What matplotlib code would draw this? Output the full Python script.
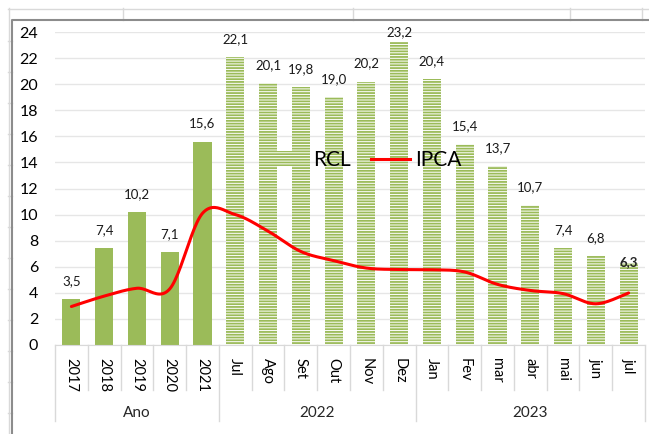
import numpy as np
import matplotlib
matplotlib.use('Agg')
import matplotlib.pyplot as plt
from matplotlib.lines import Line2D
from matplotlib.patches import Patch

plt.rcParams['font.family'] = ['Lato', 'DejaVu Sans']
plt.rcParams['hatch.linewidth'] = 1.3

# data
categories = ['2017', '2018', '2019', '2020', '2021',
              'Jul', 'Ago', 'Set', 'Out', 'Nov', 'Dez',
              'Jan', 'Fev', 'mar', 'abr', 'mai', 'jun', 'jul']
rcl = [3.5, 7.4, 10.2, 7.1, 15.6,
       22.1, 20.1, 19.8, 19.0, 20.2, 23.2,
       20.4, 15.4, 13.7, 10.7, 7.4, 6.8, 6.3]
ipca = [2.95, 3.75, 4.35, 4.3, 10.1,
        10.0, 8.73, 7.17, 6.47, 5.90, 5.79,
        5.77, 5.60, 4.65, 4.18, 3.94, 3.16, 3.99]
groups = ['Ano', '2022', '2023']
group_sizes = [5, 6, 7]

GREEN = '#9bbb59'
W, H = 649, 434


def smooth(x, y, n=25):
    # bezier smoothing like excel's "smoothed line"
    x = np.asarray(x, float)
    y = np.asarray(y, float)
    px = np.concatenate([[x[0]], x, [x[-1]]])
    py = np.concatenate([[y[0]], y, [y[-1]]])
    xs, ys = [], []
    t = np.linspace(0, 1, n)
    for i in range(1, len(px) - 2):
        p0 = np.array([px[i], py[i]])
        p3 = np.array([px[i + 1], py[i + 1]])
        c1 = p0 + (np.array([px[i + 1], py[i + 1]]) - np.array([px[i - 1], py[i - 1]])) / 6
        c2 = p3 - (np.array([px[i + 2], py[i + 2]]) - np.array([px[i], py[i]])) / 6
        b = ((1 - t) ** 3)[:, None] * p0 + (3 * (1 - t) ** 2 * t)[:, None] * c1 \
            + (3 * (1 - t) * t ** 2)[:, None] * c2 + (t ** 3)[:, None] * p3
        xs.extend(b[:, 0])
        ys.extend(b[:, 1])
    return xs, ys


fig = plt.figure(figsize=(W / 100, H / 100), dpi=100)
fig.patch.set_facecolor('white')

# spreadsheet cells behind the chart
cell = '#d9d9d9'
fig.add_artist(Line2D([8 / W, 1], [1 - 8.5 / H] * 2, color=cell, lw=1))
fig.add_artist(Line2D([8.5 / W] * 2, [0, 1 - 8 / H], color=cell, lw=1))
for xc in [123, 353, 570, 642]:
    fig.add_artist(Line2D([xc / W] * 2, [1 - 8 / H, 1 - 20 / H], color=cell, lw=1))
for yr in range(41, 434, 31):
    fig.add_artist(Line2D([8 / W, 12 / W], [1 - yr / H] * 2, color=cell, lw=1))
# chart area border
fig.add_artist(Line2D([12 / W, 12 / W, 1], [0, 1 - 20 / H, 1 - 20 / H], color='#8c8c8c', lw=1.5))

ax = fig.add_axes([55 / W, 89 / H, 590 / W, 313 / H])
x = np.arange(len(categories))

n_solid = group_sizes[0]
ax.bar(x[:n_solid], rcl[:n_solid], width=0.55, color=GREEN, zorder=2)
ax.bar(x[n_solid:], rcl[n_solid:], width=0.55, facecolor='white', edgecolor=GREEN,
       hatch='------', linewidth=0, zorder=2)

sx, sy = smooth(x, ipca)
ax.plot(sx, sy, color='#ff0000', lw=2.2, zorder=3, solid_capstyle='round')

# data labels
for i, v in enumerate(rcl):
    txt = f'{v:.1f}'.replace('.', ',')
    if i == len(rcl) - 1:
        ax.annotate(txt, (i, v), xytext=(0, 1), textcoords='offset pixels', ha='center',
                    va='center', fontsize=9.5, fontweight='bold', color='#262626', zorder=4)
        continue
    off = 18 if v < 23 else 10
    ax.annotate(txt, (i, v), xytext=(0, off), textcoords='offset pixels', ha='center',
                va='center', fontsize=9.5, color='#1a1a1a', annotation_clip=False)

ax.set_xlim(-0.5, len(categories) - 0.5)
ax.set_ylim(0, 24)
ax.set_yticks(range(0, 25, 2))
ax.tick_params(axis='y', length=0, pad=12, labelsize=11.5)
ax.set_xticks(x)
ax.set_xticklabels(categories, rotation=-90, va='top', ha='center', fontsize=10.5)
ax.tick_params(axis='x', length=0, pad=9)
ax.grid(axis='y', color='#e6e6e6', lw=1, zorder=0)
ax.set_axisbelow(True)
for s in ['top', 'right', 'left']:
    ax.spines[s].set_visible(False)
ax.spines['bottom'].set_color('#d9d9d9')

# multi-level category axis
trans = ax.get_xaxis_transform()
sep = '#d9d9d9'
bounds = np.cumsum([0] + group_sizes) - 0.5
for k in range(len(categories) + 1):
    xb = k - 0.5
    y_end = -0.243 if xb in bounds else -0.144
    ax.plot([xb, xb], [0, y_end], color=sep, lw=1, transform=trans, clip_on=False)
for g, a, b in zip(groups, bounds[:-1], bounds[1:]):
    ax.text((a + b) / 2, -0.217, g, transform=trans, ha='center', va='center',
            fontsize=11, color='#262626')

handles = [Patch(facecolor='white', edgecolor=GREEN, hatch='------', linewidth=0),
           Line2D([], [], color='#ff0000', lw=2.2)]
ax.legend(handles, ['RCL', 'IPCA'], ncol=2, frameon=False, fontsize=15,
          loc='center', bbox_to_anchor=(365 / W, 1 - 160 / H), bbox_transform=fig.transFigure,
          handlelength=1.9, handleheight=0.7, handletextpad=0.25, columnspacing=0.95)

fig.savefig('out.png', dpi=100)
